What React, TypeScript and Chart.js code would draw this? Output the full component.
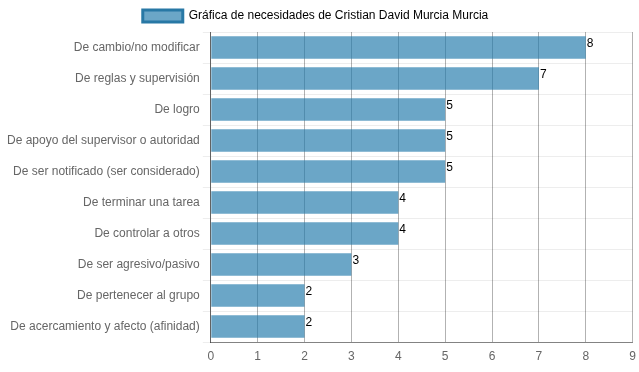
import React, { useEffect, useRef } from "react";
import { Chart, registerables } from "chart.js";

Chart.register(...registerables);

const categories = [
  "De cambio/no modificar",
  "De reglas y supervisión",
  "De logro",
  "De apoyo del supervisor o autoridad",
  "De ser notificado (ser considerado)",
  "De terminar una tarea",
  "De controlar a otros",
  "De ser agresivo/pasivo",
  "De pertenecer al grupo",
  "De acercamiento y afecto (afinidad)",
];
const values = [8, 7, 5, 5, 5, 4, 4, 3, 2, 2];
const seriesName = "Gráfica de necesidades de Cristian David Murcia Murcia";
const xTicks = [0, 1, 2, 3, 4, 5, 6, 7, 8, 9];

const valueLabels = {
  id: "valueLabels",
  afterDatasetsDraw(chart: any) {
    const ctx = chart.ctx;
    const meta = chart.getDatasetMeta(0);
    ctx.save();
    ctx.font = "12px 'Liberation Sans', Arial, sans-serif";
    ctx.fillStyle = "#000";
    ctx.textAlign = "left";
    ctx.textBaseline = "middle";
    meta.data.forEach((bar: any, i: number) => {
      ctx.fillText(String(chart.data.datasets[0].data[i]), bar.x + 1, bar.y - 3.5);
    });
    ctx.restore();
  },
};

const shiftLegend = {
  id: "shiftLegend",
  afterLayout(chart: any) {
    const lg = chart.legend;
    if (lg) {
      lg.left -= 6;
      lg.right -= 6;
    }
  },
};

export default function App() {
  const ref = useRef<HTMLCanvasElement>(null);
  useEffect(() => {
    document.body.style.margin = "0";
    Chart.defaults.font.family = "'Liberation Sans', Arial, sans-serif";
    Chart.defaults.font.size = 12;
    Chart.defaults.color = "#666";
    const chart = new Chart(ref.current!, {
      type: "bar",
      data: {
        labels: categories,
        datasets: [
          {
            label: seriesName,
            data: values,
            backgroundColor: "rgba(30,120,170,0.66)",
            borderColor: "rgb(40,120,165)",
            borderWidth: 0,
            barPercentage: 0.8,
            categoryPercentage: 0.9,
          },
        ],
      },
      options: {
        indexAxis: "y",
        animation: false,
        responsive: false,
        maintainAspectRatio: false,
        layout: { padding: { left: 4, bottom: 0 } },
        plugins: {
          legend: {
            labels: {
              generateLabels: (c: any) => [
                {
                  text: seriesName,
                  fillStyle: "rgba(30,120,170,0.66)",
                  strokeStyle: "rgb(40,120,165)",
                  lineWidth: 3,
                  datasetIndex: 0,
                  hidden: false,
                },
              ],
            },
          },
          tooltip: { enabled: false },
        },
        scales: {
          x: {
            min: 0,
            max: 9,
            afterBuildTicks: (axis: any) => {
              axis.ticks = xTicks.map((v) => ({ value: v }));
            },
            grid: { color: "rgba(0,0,0,0.3)", drawTicks: false },
            border: { color: "rgba(0,0,0,0.45)" },
            ticks: { padding: 3, font: { lineHeight: 2 } },
          },
          y: {
            grid: { color: "rgba(0,0,0,0.07)", offset: true },
            border: { color: "rgba(0,0,0,0.45)" },
          },
        },
      },
      plugins: [valueLabels, shiftLegend],
    });
    return () => chart.destroy();
  }, []);
  return (
    <div style={{ position: "fixed", left: 0, top: 0, width: 639, height: 372 }}>
      <canvas ref={ref} width={639} height={372} />
    </div>
  );
}
